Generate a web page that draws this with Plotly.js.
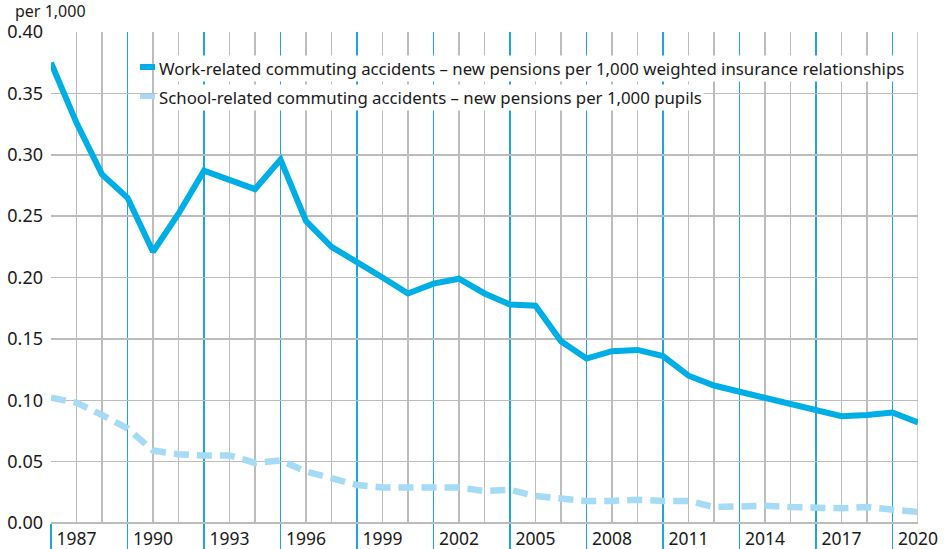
<!DOCTYPE html>
<html>
<head>
<meta charset="utf-8">
<script src="https://cdn.plot.ly/plotly-3.0.1.min.js"></script>
<style>
  html, body { margin: 0; padding: 0; background: #fff; }
  #chart { width: 945px; height: 549px; }
</style>
</head>
<body>
<div id="chart"></div>
<script>
const years = [];
for (let yr = 1986; yr <= 2020; yr++) years.push(yr);

// new pensions per 1,000
const workRelated = [
  0.375, 0.326, 0.284, 0.265, 0.221, 0.252, 0.287, 0.280, 0.272, 0.296,
  0.246, 0.225, 0.213, 0.200, 0.187, 0.195, 0.199, 0.187, 0.178, 0.177,
  0.148, 0.134, 0.140, 0.141, 0.136, 0.120, 0.112, 0.107, 0.102, 0.097,
  0.092, 0.087, 0.088, 0.090, 0.082
];
const schoolRelated = [
  0.102, 0.098, 0.088, 0.077, 0.059, 0.056, 0.055, 0.055, 0.049, 0.051,
  0.042, 0.036, 0.031, 0.029, 0.029, 0.030, 0.029, 0.026, 0.027, 0.022,
  0.020, 0.018, 0.018, 0.019, 0.018, 0.018, 0.013, 0.014, 0.014, 0.013,
  0.012, 0.012, 0.013, 0.011, 0.009
];

const labelYears = [1987, 1990, 1993, 1996, 1999, 2002, 2005, 2008, 2011, 2014, 2017, 2020];
const blueYears = years.filter(yr => (yr - 1986) % 3 === 0);
const grayYears = years.filter(yr => (yr - 1986) % 3 !== 0);

const workName = 'Work-related commuting accidents \u2013 new pensions per 1,000 weighted insurance relationships';
const schoolName = 'School-related commuting accidents \u2013 new pensions per 1,000 pupils';

const workColor = '#00aee6';
const schoolColor = '#a6dbf5';
const blueGrid = '#1ea5de';
const grayGrid = '#bcbcbc';
const fontFam = '"Noto Sans", "Open Sans", sans-serif';

// school line sits on the label axis (x2), which shares the range of x
const traces = [
  {
    x: years, y: schoolRelated, xaxis: 'x2', yaxis: 'y',
    mode: 'lines', type: 'scatter',
    line: {color: schoolColor, width: 6.5, dash: '15px,8px'},
    name: schoolName, showlegend: false
  },
  {
    x: years, y: workRelated, xaxis: 'x', yaxis: 'y',
    mode: 'lines', type: 'scatter',
    line: {color: workColor, width: 6},
    name: workName, showlegend: false
  }
];

// pixel helpers for the legend look-alike (plot area 51..918 x, 32..523 y)
const px = v => (v - 51) / 867;
const py = v => (523 - v) / 491;

const layout = {
  width: 945, height: 549,
  margin: {l: 51, r: 27, t: 32, b: 26},
  paper_bgcolor: '#fff', plot_bgcolor: '#fff',
  font: {family: fontFam, color: '#1a1a1a', size: 17},
  xaxis: {
    range: [1986, 2020],
    tickmode: 'array', tickvals: blueYears,
    showgrid: true, gridcolor: blueGrid, gridwidth: 1.5,
    ticks: 'outside', ticklen: 26, tickcolor: blueGrid, tickwidth: 1.5,
    showticklabels: false,
    minor: {tickmode: 'array', tickvals: grayYears, showgrid: true, gridcolor: grayGrid, gridwidth: 1.5, ticks: ''},
    zeroline: false, showline: false, fixedrange: true
  },
  xaxis2: {
    range: [1986, 2020], overlaying: 'x', anchor: 'y', side: 'bottom',
    tickmode: 'array', tickvals: labelYears, ticktext: labelYears.map(String),
    showgrid: false, ticks: '', zeroline: false, showline: false,
    tickfont: {size: 17.5, color: '#1a1a1a'}, ticklabelstandoff: 3, fixedrange: true
  },
  yaxis: {
    range: [0, 0.4], dtick: 0.05, tickformat: '.2f',
    showgrid: true, gridcolor: grayGrid, gridwidth: 1.5,
    zeroline: true, zerolinecolor: grayGrid, zerolinewidth: 1.5,
    ticks: '', tickfont: {size: 18, color: '#1a1a1a'},
    ticklabelstandoff: 7, showline: false, fixedrange: true
  },
  shapes: [
    {type: 'line', xref: 'x', yref: 'paper', x0: 2020, x1: 2020, y0: 0, y1: 1,
     line: {color: grayGrid, width: 1.5}, layer: 'below'},
    {type: 'rect', xref: 'paper', yref: 'paper', x0: px(140), x1: px(155), y0: py(70), y1: py(64),
     fillcolor: workColor, line: {width: 0}, layer: 'above'},
    {type: 'rect', xref: 'paper', yref: 'paper', x0: px(140), x1: px(155), y0: py(99), y1: py(94),
     fillcolor: schoolColor, line: {width: 0}, layer: 'above'}
  ],
  annotations: [
    {text: 'per 1,000', xref: 'paper', yref: 'paper', x: px(14), y: py(11),
     xanchor: 'left', yanchor: 'middle', showarrow: false, borderpad: 0, font: {size: 16}},
    {text: workName, xref: 'paper', yref: 'paper', x: px(157), y: py(68),
     xanchor: 'left', yanchor: 'middle', showarrow: false, bgcolor: '#fff', borderpad: 1,
     font: {size: 16.8}},
    {text: schoolName, xref: 'paper', yref: 'paper', x: px(157), y: py(97),
     xanchor: 'left', yanchor: 'middle', showarrow: false, bgcolor: '#fff', borderpad: 1,
     font: {size: 16.8}}
  ],
  showlegend: false
};

Plotly.newPlot('chart', traces, layout, {displayModeBar: false, staticPlot: true});
</script>
</body>
</html>
